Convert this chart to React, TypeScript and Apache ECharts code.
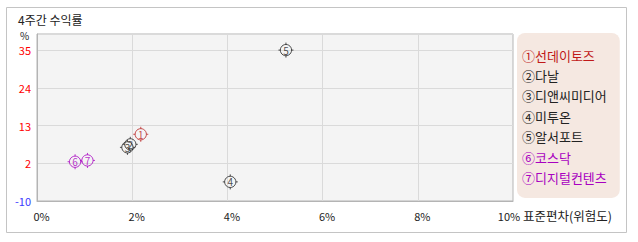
import React, { useEffect, useRef } from "react";
import * as echarts from "echarts";

const TITLE = "4주간 수익률";
const X_AXIS_NAME = "표준편차(위험도)";
const Y_AXIS_NAME = "%";
const NAMES = ["선데이토즈", "다날", "디앤씨미디어", "미투온", "알서포트", "코스닥", "디지털컨텐츠"];
const MARKS = ["①", "②", "③", "④", "⑤", "⑥", "⑦"];
const DIGITS = ["1", "2", "3", "4", "5", "6", "7"];
const X_VALUES = [2.18, 1.96, 1.9, 4.06, 5.23, 0.8, 1.06];
const Y_VALUES = [9.9, 6.9, 6.0, -4.3, 35.0, 1.7, 2.1];
const COLORS = ["#b82020", "#222222", "#222222", "#222222", "#222222", "#a800c0", "#a800c0"];
const Y_TICK_LABELS = ["-10", "2", "13", "24", "35"];
const X_TICKS = [0, 2, 4, 6, 8, 10];

// y axis scale: starts at -10, gridlines every 11.25 units
const Y_MIN = -10;
const Y_STEP = 11.25;
const Y_TOP = 39.8;

const FONT = '"Noto Sans CJK KR", "Noto Sans", sans-serif';
const MARKER =
  "path://M8,2 A6,6 0 1,1 7.99,2 Z M8,0 L8,2 M8,14 L8,16 M0,8 L2,8 M14,8 L16,8";

export default function App() {
  const ref = useRef<HTMLDivElement>(null);
  useEffect(() => {
    if (!ref.current) return;
    const chart = echarts.init(ref.current, null, { renderer: "svg" });
    const series = NAMES.map((n, i) => ({
      type: "scatter",
      name: MARKS[i] + n,
      symbol: MARKER,
      symbolSize: 15,
      z: 10 - i,
      itemStyle: { color: "rgba(0,0,0,0)", borderColor: COLORS[i], borderWidth: 1 },
      label: {
        show: true,
        position: "inside",
        formatter: DIGITS[i],
        fontSize: 10,
        fontFamily: FONT,
        color: COLORS[i],
      },
      emphasis: { disabled: true },
      data: [[X_VALUES[i], Y_VALUES[i] - Y_MIN]],
    }));
    chart.setOption({
      animation: false,
      textStyle: { fontFamily: FONT },
      title: {
        text: TITLE,
        left: 13,
        top: 8,
        textStyle: { fontSize: 12, fontWeight: "normal", color: "#222", fontFamily: FONT },
      },
      graphic: [
        {
          type: "rect",
          shape: { x: 6.5, y: 7.5, width: 620, height: 225 },
          style: { fill: "none", stroke: "#c4c4c4", lineWidth: 1 },
          silent: true,
        },
        {
          type: "text",
          x: 523,
          y: 215,
          silent: true,
          style: {
            text: X_AXIS_NAME,
            fontSize: 12.5,
            fontFamily: FONT,
            fill: "#222",
            align: "left",
            verticalAlign: "middle",
          },
        },
      ],
      grid: {
        left: 37,
        top: 34,
        width: 476,
        height: 167,
        show: true,
        backgroundColor: "#f4f4f4",
        borderColor: "#b4b4b4",
        borderWidth: 1,
      },
      xAxis: {
        type: "value",
        min: 0,
        max: 10,
        interval: 2,
        axisLine: { show: true, lineStyle: { color: "#b4b4b4" } },
        axisTick: { show: false },
        splitLine: { show: true, lineStyle: { color: "#dadada" } },
        axisLabel: {
          margin: 9,
          fontSize: 11,
          color: "#222",
          formatter: (v: number) =>
            X_TICKS.includes(v) ? (v === 10 ? "{e|" + v + "%}" : "{s|" + v + "%}") : "",
          rich: {
            s: { fontSize: 11, color: "#222", padding: [0, 0, 0, 9], fontFamily: FONT },
            e: { fontSize: 11, color: "#222", padding: [0, 8, 0, 0], fontFamily: FONT },
          },
        },
      },
      yAxis: {
        type: "value",
        min: 0,
        max: Y_TOP - Y_MIN,
        interval: Y_STEP,
        name: Y_AXIS_NAME,
        nameLocation: "end",
        nameGap: -1,
        nameTextStyle: {
          fontSize: 10,
          color: "#222",
          verticalAlign: "middle",
          padding: [0, 25, 0, 0],
          fontFamily: FONT,
        },
        axisLine: { show: true, lineStyle: { color: "#b4b4b4" } },
        axisTick: { show: false },
        splitLine: { show: true, lineStyle: { color: "#dadada" } },
        axisLabel: {
          margin: 6,
          fontSize: 11,
          formatter: (v: number) => {
            const k = Math.round(v / Y_STEP);
            if (Math.abs(v / Y_STEP - k) > 0.01) return "";
            const s = Y_TICK_LABELS[k];
            if (s === undefined) return "";
            return k === 0 ? "{b|" + s + "}" : "{r|" + s + "}";
          },
          rich: {
            b: { color: "#3a3aff", fontSize: 11, fontFamily: FONT },
            r: { color: "#ff0000", fontSize: 11, fontFamily: FONT },
          },
        },
      },
      legend: {
        orient: "vertical",
        left: 517,
        top: 33,
        icon: "none",
        itemWidth: 0,
        itemHeight: 14,
        itemGap: 6.9,
        padding: [15, 13, 14, 0],
        backgroundColor: "#f5e8e1",
        borderRadius: 8,
        selectedMode: false,
        data: NAMES.map((n, i) => ({
          name: MARKS[i] + n,
          textStyle: {
            color: i === 0 ? "#c01818" : COLORS[i],
            fontSize: 13,
            fontFamily: FONT,
          },
        })),
      },
      series,
    });
    return () => chart.dispose();
  }, []);
  return (
    <div
      ref={ref}
      style={{ position: "absolute", left: 0, top: 0, width: 638, height: 242 }}
    />
  );
}
